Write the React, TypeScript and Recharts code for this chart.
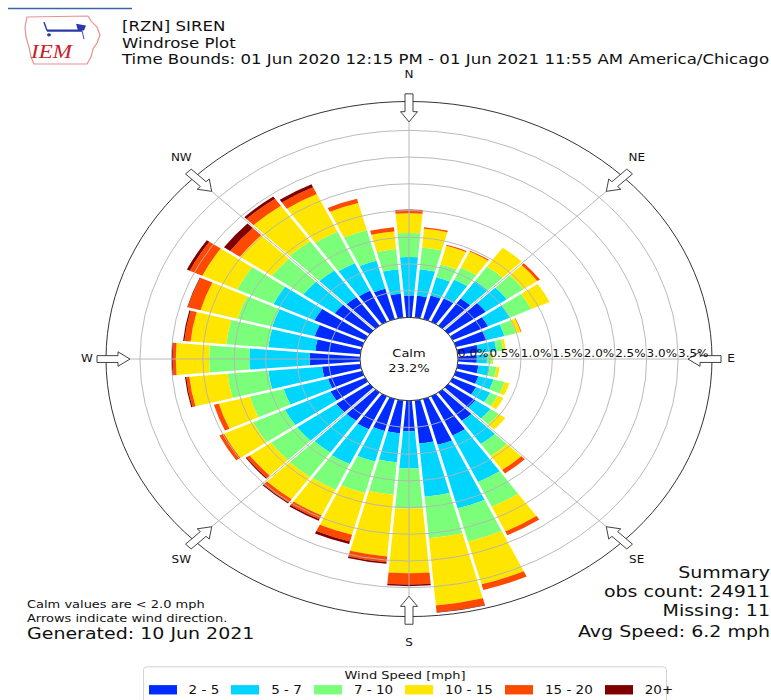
import React from 'react'
import {
  RadialBarChart, RadialBar, PolarAngleAxis, PolarRadiusAxis,
  RadarChart, Radar, PolarGrid,
} from 'recharts'

// ── Data (percent of all observations) ───────────────────────────────────────

const DIRECTIONS = [
  '0', '10', '20', '30', '40', '50', '60', '70', '80', '90', '100', '110',
  '120', '130', '140', '150', '160', '170', '180', '190', '200', '210', '220', '230',
  '240', '250', '260', '270', '280', '290', '300', '310', '320', '330', '340', '350',
]

const SPEED_BINS = ['2 - 5', '5 - 7', '7 - 10', '10 - 15', '15 - 20', '20+']

const BIN_2_5 = [
  0.41, 0.41, 0.46, 0.48, 0.62, 0.73, 0.62, 0.51, 0.33, 0.30, 0.33, 0.37,
  0.41, 0.53, 0.65, 0.81, 0.89, 0.81, 0.57, 0.62, 0.62, 0.68, 0.65, 0.65,
  0.61, 0.56, 0.61, 0.80, 0.72, 0.78, 0.89, 0.68, 0.65, 0.64, 0.59, 0.45,
]
const BIN_5_7 = [
  0.72, 0.50, 0.35, 0.39, 0.40, 0.41, 0.38, 0.29, 0.29, 0.16, 0.18, 0.25,
  0.25, 0.29, 0.53, 0.96, 1.23, 1.00, 0.70, 0.54, 0.59, 0.72, 0.72, 0.76,
  0.80, 0.73, 0.86, 0.96, 0.75, 0.70, 0.72, 0.61, 0.61, 0.57, 0.54, 0.46,
]
const BIN_7_10 = [
  0.45, 0.41, 0.25, 0.25, 0.33, 0.32, 0.38, 0.19, 0.11, 0.08, 0.11, 0.18,
  0.13, 0.16, 0.27, 0.51, 0.64, 0.78, 0.75, 0.61, 0.61, 0.53, 0.56, 0.51,
  0.56, 0.56, 0.65, 0.64, 0.67, 0.57, 0.64, 0.61, 0.67, 0.65, 0.59, 0.38,
]
const BIN_10_15 = [
  0.37, 0.35, 0.36, 0.33, 0.43, 0.27, 0.32, 0.08, 0.04, 0.02, 0.05, 0.08,
  0.10, 0.13, 0.32, 0.51, 0.83, 1.26, 1.21, 1.16, 0.81, 0.53, 0.51, 0.41,
  0.51, 0.51, 0.61, 0.53, 0.57, 0.61, 0.61, 0.62, 0.81, 0.78, 0.53, 0.33,
]
const BIN_15_20 = [
  0.06, 0.03, 0.02, 0.02, 0.00, 0.05, 0.00, 0.01, 0.00, 0.00, 0.00, 0.00,
  0.00, 0.00, 0.08, 0.08, 0.11, 0.13, 0.21, 0.11, 0.13, 0.08, 0.08, 0.06,
  0.08, 0.08, 0.05, 0.05, 0.10, 0.21, 0.22, 0.19, 0.16, 0.14, 0.08, 0.08,
]
const BIN_20P = [
  0.01, 0.00, 0.00, 0.00, 0.00, 0.00, 0.00, 0.00, 0.00, 0.00, 0.00, 0.00,
  0.00, 0.00, 0.00, 0.00, 0.00, 0.01, 0.03, 0.03, 0.05, 0.03, 0.02, 0.02,
  0.00, 0.00, 0.02, 0.02, 0.02, 0.01, 0.05, 0.12, 0.05, 0.06, 0.00, 0.00,
]

const BIN_SERIES = [BIN_2_5, BIN_5_7, BIN_7_10, BIN_10_15, BIN_15_20, BIN_20P]
const BIN_KEYS = ['s1', 's2', 's3', 's4', 's5', 's6']
const BIN_COLORS = ['#002bff', '#00d5ff', '#7bff7b', '#ffe600', '#ff4800', '#800000']

const COMPASS = ['N', 'NE', 'E', 'SE', 'S', 'SW', 'W', 'NW']
const RING_TICKS = [0, 0.5, 1.0, 1.5, 2.0, 2.5, 3.0, 3.5]
const RADIUS_MAX = 4.04
const CALM_PCT = 23.2

// ── Layout ───────────────────────────────────────────────────────────────────

const FONT = '"DejaVu Sans", Verdana, sans-serif'
const SQUASH = 0.85          // the source picture is squeezed vertically
const W = 771
const H = 824
const CX = 409
const CY = 422.4
const INNER_R = 49
const OUTER_R = 303
const HALF_GAP = 1.5

// stacked wedge with constant-width white gaps between neighbours
// eslint-disable-next-line @typescript-eslint/no-explicit-any
function WedgeShape(props: any) {
  const { cx, cy, innerRadius, outerRadius, startAngle, endAngle, fill } = props
  if (!(outerRadius - innerRadius > 0.05)) return <g />
  const mid = (startAngle + endAngle) / 2
  const half = Math.abs(endAngle - startAngle) / 2
  const pt = (r: number, a: number) => {
    const rad = (a * Math.PI) / 180
    return `${cx + r * Math.cos(rad)},${cy - r * Math.sin(rad)}`
  }
  const trim = (r: number) => (Math.asin(Math.min(1, HALF_GAP / r)) * 180) / Math.PI
  const ro = outerRadius
  const ri = innerRadius
  const d =
    `M${pt(ro, mid - half + trim(ro))} A${ro},${ro} 0 0 0 ${pt(ro, mid + half - trim(ro))} ` +
    `L${pt(ri, mid + half - trim(ri))} A${ri},${ri} 0 0 1 ${pt(ri, mid - half + trim(ri))} Z`
  return <path d={d} fill={fill} />
}

// compass arrow + label on the outer circle
// eslint-disable-next-line @typescript-eslint/no-explicit-any
function CompassTick(props: any) {
  const { payload } = props
  const a = (payload.coordinate * Math.PI) / 180
  const ux = Math.cos(a)
  const uy = -Math.sin(a)
  const at = (r: number, w: number) => `${CX + r * ux - w * uy},${CY + r * uy + w * ux}`
  const arrow = [
    at(279, 0), at(291, 8.5), at(291, 4), at(312, 4), at(312, -4), at(291, -4), at(291, -8.5),
  ].join(' ')
  return (
    <g>
      <polygon points={arrow} fill="#fff" stroke="#333" strokeWidth={1} />
      <text
        x={CX + 322 * ux}
        y={CY + 334 * uy}
        textAnchor="middle"
        dominantBaseline="central"
        fontSize={12}
        fontFamily={FONT}
        fill="#111"
      >
        {payload.value}
      </text>
    </g>
  )
}

// ring labels along the east line, calm disc drawn with the first tick
// eslint-disable-next-line @typescript-eslint/no-explicit-any
function RingTick(props: any) {
  const { x, y, payload } = props
  return (
    <g>
      {payload.value === 0 && (
        <g>
          <circle cx={CX} cy={CY} r={INNER_R} fill="#fff" stroke="#222" strokeWidth={1} />
          <text x={CX} y={CY - 7} textAnchor="middle" dominantBaseline="central"
            fontSize={13} fontFamily={FONT} fill="#111">Calm</text>
          <text x={CX} y={CY + 10.5} textAnchor="middle" dominantBaseline="central"
            fontSize={13} fontFamily={FONT} fill="#111">{CALM_PCT.toFixed(1)}%</text>
        </g>
      )}
      <text x={x} y={y - 2} textAnchor="start" fontSize={12} fontFamily={FONT} fill="#111">
        {Number(payload.value).toFixed(1)}%
      </text>
    </g>
  )
}

function Logo() {
  const outline = [
    [27, 20], [88, 18.8], [91, 24.7], [97, 31.8], [100, 41.2], [97, 50.6], [93, 57.6],
    [91, 67.1], [87, 75.3], [34, 75.3], [31, 67.1], [29, 55.3], [26, 43.5], [25, 31.8],
  ].map((p) => p.join(',')).join(' ')
  return (
    <g>
      <polygon points={outline} fill="#fff" stroke="#e89090" strokeWidth={1.2} />
      <line x1={44} y1={26} x2={47} y2={36} stroke="#2a3aa8" strokeWidth={1.5} />
      <line x1={47} y1={36} x2={82} y2={36} stroke="#2a3aa8" strokeWidth={2.5} />
      <polygon points="76,28 86,30 84,36 78,36" fill="#2a3aa8" />
      <circle cx={49} cy={41} r={2} fill="#2a3aa8" />
      <line x1={82} y1={36} x2={84} y2={46} stroke="#2a3aa8" strokeWidth={1} />
      <text x={31} y={68} fontSize={23} fontStyle="italic" fontFamily='"Liberation Serif", serif'
        fill="#c8202a">IEM</text>
    </g>
  )
}

function Texts() {
  const t = { fontFamily: FONT, fill: '#111' }
  return (
    <svg width={W} height={H} style={{ position: 'absolute', left: 0, top: 0 }}>
      <line x1={8} y1={10} x2={132} y2={10} stroke="#3b64a8" strokeWidth={1.5} />
      <Logo />
      <text x={122} y={36.5} fontSize={16.6} {...t}>[RZN] SIREN</text>
      <text x={122} y={56.5} fontSize={16.6} {...t}>Windrose Plot</text>
      <text x={122} y={75.5} fontSize={16.6} {...t}>
        Time Bounds: 01 Jun 2020 12:15 PM - 01 Jun 2021 11:55 AM America/Chicago
      </text>
      <text x={27} y={715} fontSize={13} {...t}>Calm values are &lt; 2.0 mph</text>
      <text x={27} y={732} fontSize={13} {...t}>Arrows indicate wind direction.</text>
      <text x={27} y={752} fontSize={19} {...t}>Generated: 10 Jun 2021</text>
      <text x={770} y={680} fontSize={19} textAnchor="end" {...t}>Summary</text>
      <text x={770} y={702.5} fontSize={19} textAnchor="end" {...t}>obs count: 24911</text>
      <text x={770} y={725} fontSize={19} textAnchor="end" {...t}>Missing: 11</text>
      <text x={770} y={749.5} fontSize={19} textAnchor="end" {...t}>Avg Speed: 6.2 mph</text>
    </svg>
  )
}

function SpeedLegend() {
  return (
    <div
      style={{
        position: 'absolute', left: 143, top: 783.5, width: 524, height: 60,
        border: '1px solid #cfcfcf', borderRadius: 4, boxSizing: 'border-box',
        background: '#fff', fontFamily: FONT, color: '#111',
      }}
    >
      <div style={{ textAlign: 'center', fontSize: 13, lineHeight: '16px', marginTop: 2 }}>
        Wind Speed [mph]
      </div>
      <div style={{ display: 'flex', alignItems: 'center', paddingLeft: 4.6, marginTop: 1, lineHeight: '16px', whiteSpace: 'nowrap' }}>
        {SPEED_BINS.map((bin, i) => (
          <div key={bin} style={{ display: 'flex', alignItems: 'center', marginRight: 12, flexShrink: 0 }}>
            <span style={{ display: 'inline-block', width: 28, height: 10.5, background: BIN_COLORS[i], marginRight: 12, flexShrink: 0 }} />
            <span style={{ fontSize: 13.5, whiteSpace: 'nowrap' }}>{bin}</span>
          </div>
        ))}
      </div>
    </div>
  )
}

export default function App() {
  const data = DIRECTIONS.map((dir, i) => {
    const row: Record<string, string | number> = { dir }
    BIN_KEYS.forEach((k, j) => { row[k] = BIN_SERIES[j][i] })
    return row
  })
  const compass = COMPASS.map((dir) => ({ dir, zero: 0 }))
  const margin = { top: 0, right: 0, bottom: 0, left: 0 }

  return (
    <div style={{ position: 'absolute', left: 0, top: 0, width: 771, height: 700, overflow: 'hidden', background: '#fff' }}>
      <div style={{ position: 'absolute', left: 0, top: 0, width: W, height: H, transform: `scaleY(${SQUASH})`, transformOrigin: '0 0' }}>
        <Texts />

        <div style={{ position: 'absolute', left: 0, top: 0 }}>
          <RadialBarChart
            width={W}
            height={H}
            data={data}
            layout="centric"
            cx={CX}
            cy={CY}
            innerRadius={INNER_R}
            outerRadius={OUTER_R}
            startAngle={85}
            endAngle={-275}
            barCategoryGap={0}
            barGap={0}
            margin={margin}
          >
            <PolarAngleAxis type="category" dataKey="dir" tick={false} axisLine={false} tickLine={false} />
            <PolarRadiusAxis type="number" domain={[0, RADIUS_MAX]} tick={false} axisLine={false} tickLine={false} />
            {BIN_KEYS.map((k, i) => (
              <RadialBar
                key={k}
                dataKey={k}
                name={SPEED_BINS[i]}
                stackId="ws"
                fill={BIN_COLORS[i]}
                shape={WedgeShape}
                isAnimationActive={false}
              />
            ))}
          </RadialBarChart>
        </div>

        <div style={{ position: 'absolute', left: 0, top: 0, pointerEvents: 'none' }}>
          <RadarChart
            width={W}
            height={H}
            data={compass}
            cx={CX}
            cy={CY}
            innerRadius={INNER_R}
            outerRadius={OUTER_R}
            startAngle={90}
            endAngle={-270}
            margin={margin}
          >
            <PolarGrid gridType="circle" radialLines stroke="#b4b4b4" strokeWidth={1} />
            <PolarAngleAxis
              dataKey="dir"
              axisLineType="circle"
              axisLine={{ stroke: '#222', strokeWidth: 1 }}
              tickLine={false}
              tick={CompassTick}
            />
            <PolarRadiusAxis
              type="number"
              angle={0}
              domain={[0, RADIUS_MAX]}
              ticks={RING_TICKS}
              axisLine={false}
              tickLine={false}
              tick={RingTick}
            />
            <Radar dataKey="zero" fill="none" stroke="none" isAnimationActive={false} />
          </RadarChart>
        </div>

        <SpeedLegend />
      </div>
    </div>
  )
}
